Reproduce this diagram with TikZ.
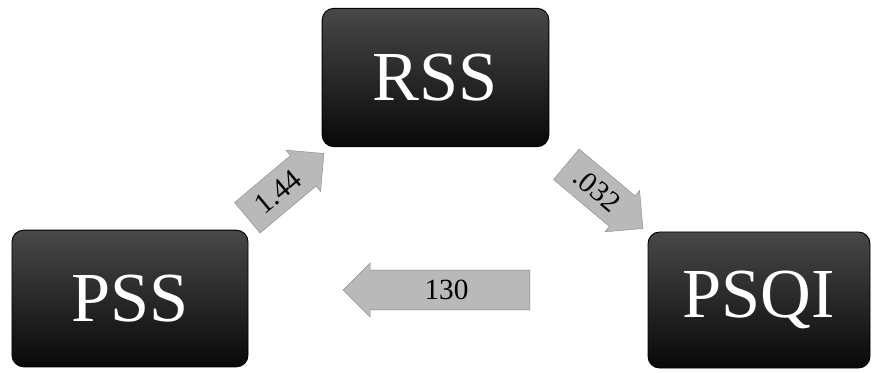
\documentclass[tikz,border=0pt]{standalone}
\usepackage{fontspec}
\setmainfont{Liberation Serif}
\definecolor{boxtop}{RGB}{72, 72, 72}
\definecolor{boxbottom}{RGB}{8, 8, 8}
\definecolor{arrowgray}{RGB}{185, 185, 185}
\usetikzlibrary{shapes.arrows, positioning}
\tikzset{
	measure/.style={rectangle, rounded corners=10pt, top color=boxtop, bottom color=boxbottom, draw=black, line width=0.8pt, text=white, align=center, minimum width=6.8cm, minimum height=4.15cm, font=\fontsize{60}{60}\selectfont},
	effect/.style={single arrow, single arrow head extend=0.12cm, fill=arrowgray, draw=arrowgray!70!black, line width=0.3pt, minimum width=1.62cm, minimum height=3cm, inner sep=1pt, text=black, font=\fontsize{25}{25}\selectfont},
}
\begin{document}
\begin{tikzpicture}[x=0.03cm, y=-0.03cm]
	\useasboundingbox (0,0) rectangle (872,373);
	\node[measure] (rss) at (435.5,77.5) {RSS};
	\node[measure, minimum width=7.08cm, minimum height=4.1cm] (pss) at (130,298.5) {PSS};
	\node[measure, minimum width=6.66cm, minimum height=4.08cm] (psqi) at (759,300) {PSQI};
	\node[effect, rotate=40] (pssrss) at (278,192) {1.44};
	\node[effect, rotate=-40] (rsspsqi) at (597,190) {.032};
	\node[effect, shape border rotate=180, minimum height=5.6cm] (psqipss) at (446.5,290) {130};
\end{tikzpicture}
\end{document}
